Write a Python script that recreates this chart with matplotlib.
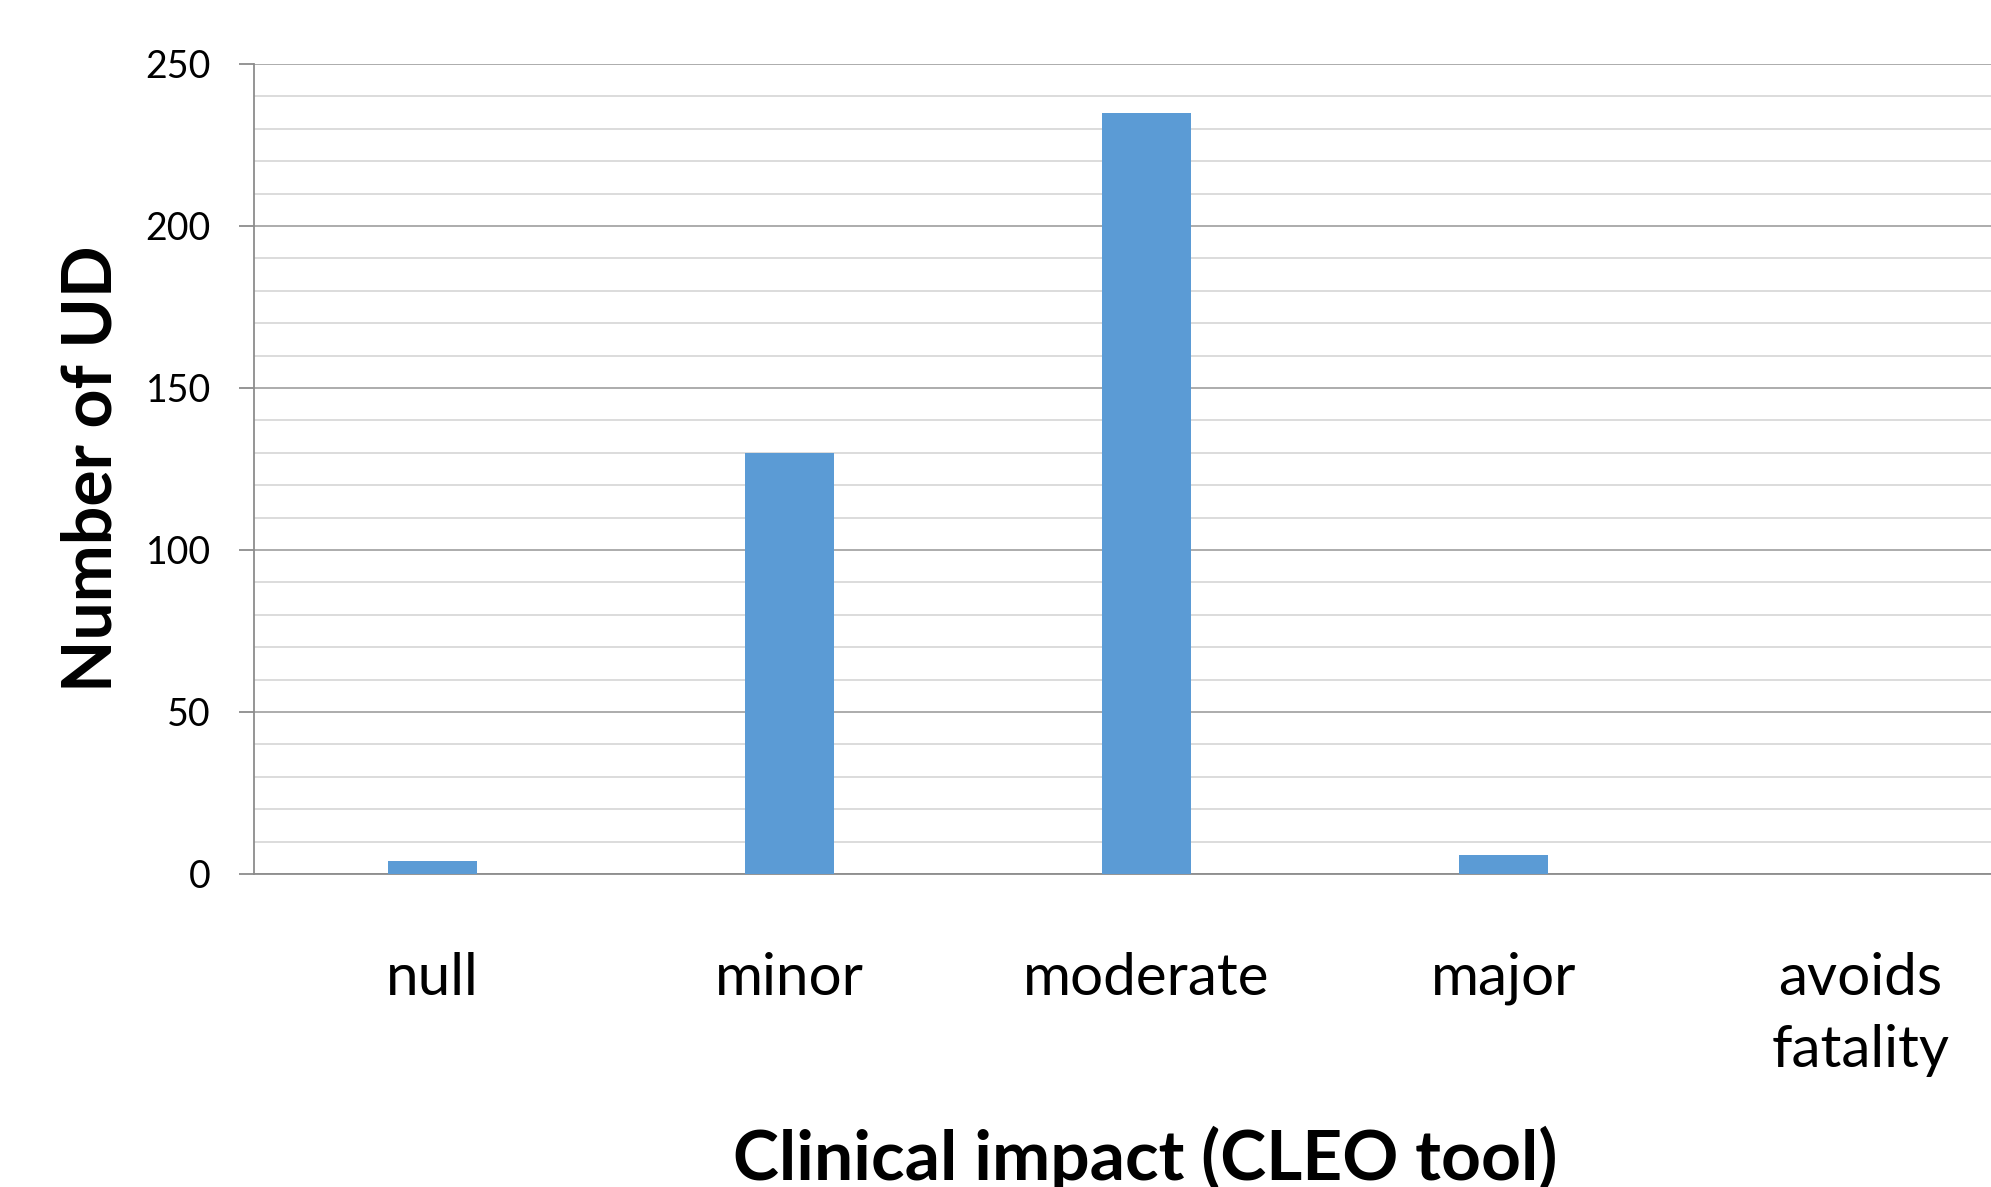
import matplotlib
matplotlib.use("Agg")
import matplotlib.pyplot as plt
from matplotlib.ticker import MultipleLocator

# data
categories = ["null", "minor", "moderate", "major", "avoids\nfatality"]
counts = [4, 130, 235, 6, 0]
y_ticks = [0, 50, 100, 150, 200, 250]

plt.rcParams['font.family'] = ['Lato', 'DejaVu Sans']

fig = plt.figure(figsize=(19.91, 11.87), dpi=100)
# the plot area runs past the right edge of the picture, as in the original
ax = fig.add_axes([254 / 1991, 1 - 874 / 1187, 1785 / 1991, 810 / 1187])

x = list(range(len(categories)))
ax.bar(x, counts, width=0.25, color="#5B9BD5", zorder=3)

ax.set_xlim(-0.5, len(categories) - 0.5)
ax.set_ylim(0, 250)
ax.set_yticks(y_ticks)
ax.yaxis.set_minor_locator(MultipleLocator(10))
ax.grid(True, which="major", axis="y", color="#a6a6a6", linewidth=1.3, zorder=0)
ax.grid(True, which="minor", axis="y", color="#d9d9d9", linewidth=1.3, zorder=0)

for side in ("top", "right"):
    ax.spines[side].set_visible(False)
for side in ("left", "bottom"):
    ax.spines[side].set_color("#8c8c8c")
    ax.spines[side].set_linewidth(1.3)

ax.set_xticks(x)
ax.set_xticklabels(categories, fontsize=42, linespacing=1.45, va="top")
ax.tick_params(axis="x", length=0, pad=56)
ax.tick_params(axis="y", which="major", length=11, width=1.3, color="#8c8c8c",
               labelsize=27, pad=20)
ax.tick_params(axis="y", which="minor", length=0)

ax.set_ylabel("Number of UD", fontsize=49, fontweight="bold", labelpad=16)
fig.text(1145 / 1991, 1 - 1180 / 1187, "Clinical impact (CLEO tool)",
         fontsize=50, fontweight="bold", ha="center", va="baseline")

fig.savefig("out.png", dpi=100)
